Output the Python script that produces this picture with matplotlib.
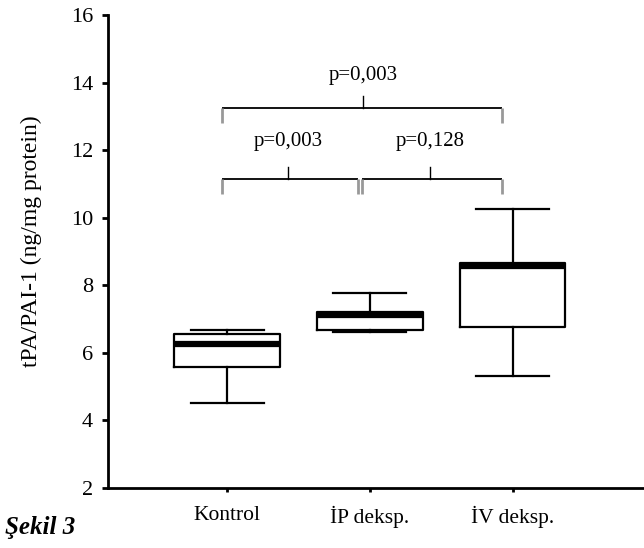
import matplotlib
matplotlib.use("Agg")
import matplotlib.pyplot as plt

# kutu grafiği değerleri
groups = ["Kontrol", "İP deksp.", "İV deksp."]
whisker_low = [4.52, 6.60, 5.30]
q1 = [5.58, 6.66, 6.75]
median = [6.25, 7.13, 8.58]
q3 = [6.54, 7.20, 8.67]
whisker_high = [6.67, 7.76, 10.25]

p_labels = ["p=0,003", "p=0,128", "p=0,003"]

plt.rcParams['font.family'] = ['Liberation Serif', 'DejaVu Serif']

fig = plt.figure(figsize=(6.44, 5.48), dpi=100)
ax = fig.add_axes([0.168, 0.110, 0.832, 0.8626])

stats = []
for i, name in enumerate(groups):
    stats.append({
        "label": name,
        "whislo": whisker_low[i],
        "q1": q1[i],
        "med": median[i],
        "q3": q3[i],
        "whishi": whisker_high[i],
        "fliers": [],
    })

positions = [1, 2, 3]
ax.bxp(stats, positions=positions, widths=0.74, capwidths=0.51,
       showfliers=False,
       boxprops=dict(color='black', linewidth=1.6),
       whiskerprops=dict(color='black', linewidth=1.6),
       capprops=dict(color='black', linewidth=1.6),
       medianprops=dict(color='black', linewidth=4.5, solid_capstyle='butt'))

# anlamlılık parantezleri: (sol, sağ, yükseklik, orta, yazı yüksekliği)
brackets = [
    (0.963, 1.919, 11.15, 1.429, 12.24),
    (1.947, 2.924, 11.15, 2.42, 12.24),
    (0.963, 2.924, 13.25, 1.954, 14.22),
]
for (x0, x1, y, xc, ty), lab in zip(brackets, p_labels):
    ax.plot([x0, x1], [y, y], color='black', lw=1.3, solid_capstyle='butt')
    ax.plot([x0, x0], [y, y - 0.45], color='#999999', lw=2.0, solid_capstyle='butt')
    ax.plot([x1, x1], [y, y - 0.45], color='#999999', lw=2.0, solid_capstyle='butt')
    ax.plot([xc, xc], [y, y + 0.36], color='black', lw=1.0)
    ax.text(xc, ty, lab, ha='center', va='center', fontsize=15)

ax.set_xlim(0.167, 3.92)
ax.set_ylim(2, 16)
ax.set_yticks([2, 4, 6, 8, 10, 12, 14, 16])
ax.set_xticks(positions)
ax.set_xticklabels(groups)

ax.spines['top'].set_visible(False)
ax.spines['right'].set_visible(False)
ax.spines['left'].set_linewidth(2)
ax.spines['bottom'].set_linewidth(2)
ax.tick_params(axis='y', direction='out', length=4, width=2, labelsize=16, pad=7)
ax.tick_params(axis='x', direction='out', length=3, width=2, labelsize=15.5, pad=10)

ax.set_ylabel("tPA/PAI-1 (ng/mg protein)", fontsize=17)
ax.yaxis.set_label_coords(-0.123, 0.522)

fig.text(0.008, 0.038, "Şekil 3", fontsize=18, fontweight='bold',
         fontstyle='italic', ha='left', va='center')

fig.savefig("out.png", dpi=100)
